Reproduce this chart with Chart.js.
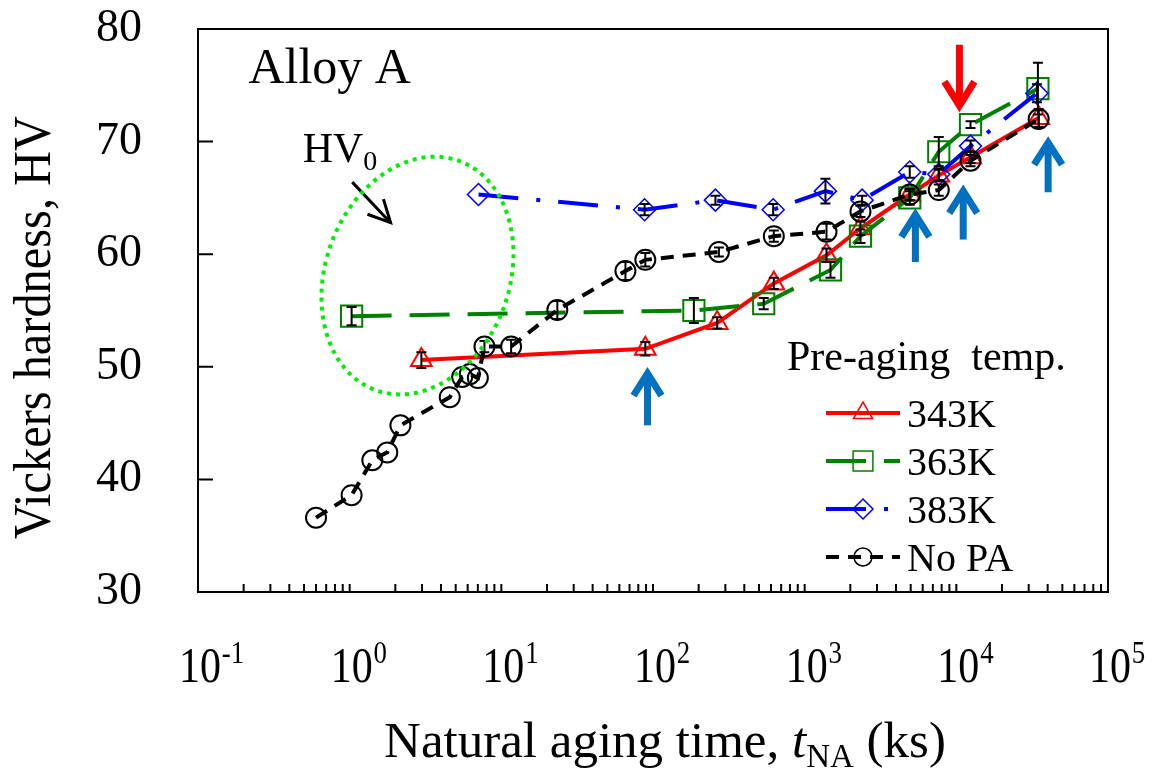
<!DOCTYPE html>
<html>
<head>
<meta charset="utf-8">
<title>Vickers hardness vs natural aging time</title>
<script src="https://cdn.jsdelivr.net/npm/chart.js@4.4.1/dist/chart.umd.min.js"></script>
<style>
  html, body { margin: 0; padding: 0; background: #fff; }
  canvas { display: block; }
</style>
</head>
<body>
<canvas id="myChart" width="1153" height="775"></canvas>
<script>
// natural aging time t_NA (ks) / hardness HV / error (+-)
const t343 = [2.97, 89, 265, 626, 1393, 2333, 4930, 7660, 12400, 34900];
const hv343 = [50.6, 51.6, 53.9, 57.4, 59.9, 62.3, 65.3, 67.0, 68.6, 72.1];
const err343 = [0.7, 0.6, 0.5, 0.5, 0.6, 0.6, 0.5, 0.5, 0.5, 0.8];

const t363 = [1.03, 186, 537, 1480, 2333, 4930, 7660, 12400, 34500];
const hv363 = [54.5, 55.0, 55.6, 58.6, 61.6, 65.0, 69.1, 71.5, 74.7];
const err363 = [0.8, 1.1, 0.5, 0.7, 0.6, 0.6, 1.3, 0.3, 2.3];

const t383 = [7.07, 88, 258, 620, 1371, 2393, 4930, 7660, 12400, 34000];
const hv383 = [65.3, 63.95, 64.8, 63.95, 65.6, 64.8, 67.3, 67.1, 69.6, 74.3];
const err383 = [0, 0.5, 0.4, 0.5, 1.1, 0.4, 0.5, 0.5, 0.5, 0.8];

const tNoPA = [0.60, 1.03, 1.41, 1.77, 2.16, 4.57, 5.52, 6.2, 7.0, 7.74, 11.6, 23.4, 65.8, 89, 272, 626, 1393, 2333, 4930, 7660, 12400, 34900];
const hvNoPA = [36.6, 38.6, 41.7, 42.4, 44.8, 47.3, 49.1, 49.35, 49.0, 51.8, 51.8, 55.05, 58.5, 59.5, 60.2, 61.6, 62.0, 63.8, 65.3, 65.7, 68.3, 72.0];
const errNoPA = [0, 0, 0, 0, 0, 0, 0, 0, 0, 0.5, 0.6, 0.8, 0.8, 0.6, 0.4, 0.5, 0.7, 0.5, 0.5, 0.5, 0.5, 0.8];

const xTickPowers = [-1, 0, 1, 2, 3, 4, 5];
const yTicks = [30, 40, 50, 60, 70, 80];

// arrows marking points (data coordinates)
const blueArrows = [[92, 44.8, 49.4], [5370, 59.3, 63.5], [11100, 61.3, 65.6], [40300, 65.5, 69.9]];
const redArrows = [[10480, 78.6, 73.2]];

const serif = "'Liberation Serif', 'Times New Roman', serif";

function toPoints(xs, ys) {
    return xs.map((x, i) => ({ x: x, y: ys[i] }));
}

function series(label, xs, ys, errs, color, dash, style, radius) {
    return {
        label: label,
        data: toPoints(xs, ys),
        errors: errs,
        borderColor: color,
        borderWidth: 4,
        borderDash: dash,
        pointStyle: style,
        pointRadius: radius,
        pointBorderWidth: 2,
        pointBorderColor: color,
        pointBackgroundColor: 'rgba(0,0,0,0)',
        showLine: true,
        fill: false,
        tension: 0
    };
}

const ds343 = series('343K', t343, hv343, err343, '#ff0000', [], 'triangle', 12);
const ds363 = series('363K', t363, hv363, err363, '#008000', [40, 18], 'rect', 15);
const ds383 = series('383K', t383, hv383, err383, '#0000ff', [40, 18, 4, 18], 'rectRot', 11);
const dsNoPA = series('No PA', tNoPA, hvNoPA, errNoPA, '#000000', [13, 9], 'circle', 10);
ds383.pointBorderWidth = 1.5;
ds343.order = 3; ds363.order = 2; ds383.order = 1; dsNoPA.order = 0;

function marker(ctx, style, x, y, r) {
    ctx.beginPath();
    if (style == 'triangle') {
        ctx.moveTo(x, y - r);
        ctx.lineTo(x + r * Math.sin(2 * Math.PI / 3), y - r * Math.cos(2 * Math.PI / 3));
        ctx.lineTo(x + r * Math.sin(4 * Math.PI / 3), y - r * Math.cos(4 * Math.PI / 3));
        ctx.closePath();
    } else if (style == 'rect') {
        const s = r * Math.SQRT1_2;
        ctx.rect(x - s, y - s, 2 * s, 2 * s);
    } else if (style == 'rectRot') {
        ctx.moveTo(x - r, y); ctx.lineTo(x, y - r); ctx.lineTo(x + r, y); ctx.lineTo(x, y + r);
        ctx.closePath();
    } else {
        ctx.arc(x, y, r, 0, Math.PI * 2);
    }
    ctx.stroke();
}

function arrow(ctx, x0, y0, x1, y1, head, spread, color, width) {
    ctx.save();
    ctx.strokeStyle = color;
    ctx.lineWidth = width;
    ctx.setLineDash([]);
    ctx.beginPath();
    ctx.moveTo(x0, y0);
    ctx.lineTo(x1, y1);
    ctx.stroke();
    const a = Math.atan2(y1 - y0, x1 - x0);
    ctx.beginPath();
    ctx.moveTo(x1 - head * Math.cos(a) + spread * Math.sin(a), y1 - head * Math.sin(a) - spread * Math.cos(a));
    ctx.lineTo(x1, y1);
    ctx.lineTo(x1 - head * Math.cos(a) - spread * Math.sin(a), y1 - head * Math.sin(a) + spread * Math.cos(a));
    ctx.stroke();
    ctx.restore();
}

const errorBars = {
    id: 'errorBars',
    afterDatasetsDraw(chart) {
        const ctx = chart.ctx, yScale = chart.scales.y;
        ctx.save();
        ctx.strokeStyle = '#000';
        ctx.lineWidth = 2;
        chart.data.datasets.forEach((ds, i) => {
            const meta = chart.getDatasetMeta(i);
            meta.data.forEach((pt, j) => {
                const e = ds.errors[j];
                if (!e) return;
                const v = ds.data[j].y;
                const top = yScale.getPixelForValue(v + e);
                const bot = yScale.getPixelForValue(v - e);
                ctx.beginPath();
                ctx.moveTo(pt.x, top); ctx.lineTo(pt.x, bot);
                ctx.moveTo(pt.x - 5, top); ctx.lineTo(pt.x + 5, top);
                ctx.moveTo(pt.x - 5, bot); ctx.lineTo(pt.x + 5, bot);
                ctx.stroke();
            });
        });
        ctx.restore();
    }
};

const frame = {
    id: 'frame',
    afterDraw(chart) {
        const ctx = chart.ctx;
        const area = chart.chartArea;
        const xs = chart.scales.x, ys = chart.scales.y;

        ctx.save();
        // box
        ctx.strokeStyle = '#000';
        ctx.lineWidth = 2;
        ctx.strokeRect(area.left, area.top, area.right - area.left, area.bottom - area.top);

        // inward ticks
        ctx.beginPath();
        yTicks.forEach(v => {
            const py = ys.getPixelForValue(v);
            ctx.moveTo(area.left, py); ctx.lineTo(area.left + 15, py);
        });
        for (let p = -1; p < 5; p++) {
            for (let m = 1; m <= 9; m++) {
                const px = xs.getPixelForValue(m * Math.pow(10, p));
                ctx.moveTo(px, area.bottom); ctx.lineTo(px, area.bottom - 8);
            }
        }
        ctx.stroke();

        // x tick labels 10^n
        ctx.fillStyle = '#000';
        ctx.textBaseline = 'alphabetic';
        xTickPowers.forEach(p => {
            const px = xs.getPixelForValue(Math.pow(10, p));
            ctx.save();
            ctx.translate(px + 2, area.bottom + 90);
            ctx.scale(0.84, 1);
            ctx.font = '50px ' + serif;
            ctx.textAlign = 'right';
            ctx.fillText('10', 25, 0);
            ctx.font = '32px ' + serif;
            ctx.textAlign = 'left';
            ctx.fillText(p < 0 ? '-' + (-p) : String(p), 26, -19);
            ctx.restore();
        });

        // x title
        const cx = (area.left + area.right) / 2 + 12;
        const base = area.bottom + 165;
        const parts = [
            ['Natural aging time, ', '51px ' + serif, 0],
            ['t', 'italic 51px ' + serif, 0],
            ['NA', '33px ' + serif, 10],
            [' (ks)', '51px ' + serif, 0]
        ];
        let total = 0;
        parts.forEach(p => { ctx.font = p[1]; total += ctx.measureText(p[0]).width; });
        let x = cx - total / 2;
        ctx.textAlign = 'left';
        parts.forEach(p => {
            ctx.font = p[1];
            ctx.fillText(p[0], x, base + p[2]);
            x += ctx.measureText(p[0]).width;
        });

        // y title
        ctx.save();
        ctx.translate(50, (area.top + area.bottom) / 2 + 17);
        ctx.rotate(-Math.PI / 2);
        ctx.scale(0.93, 1);
        ctx.font = '52px ' + serif;
        ctx.textAlign = 'center';
        ctx.fillText('Vickers hardness, HV', 0, 0);
        ctx.restore();

        // Alloy A
        ctx.font = '50px ' + serif;
        ctx.textAlign = 'left';
        ctx.fillText('Alloy A', xs.getPixelForValue(0.215), ys.getPixelForValue(75.2));

        // HV0 label, arrow and ellipse
        const hx = xs.getPixelForValue(0.49), hy = ys.getPixelForValue(68.2);
        ctx.font = '42px ' + serif;
        ctx.fillText('HV', hx, hy);
        const hw = ctx.measureText('HV').width;
        ctx.font = '28px ' + serif;
        ctx.fillText('0', hx + hw, hy + 8);
        arrow(ctx, xs.getPixelForValue(1.04), ys.getPixelForValue(66.4),
            xs.getPixelForValue(1.86), ys.getPixelForValue(62.8), 22, 11, '#000', 3);

        ctx.save();
        ctx.strokeStyle = '#00ee00';
        ctx.lineWidth = 4;
        ctx.setLineDash([4, 5]);
        ctx.beginPath();
        ctx.ellipse(xs.getPixelForValue(2.8), ys.getPixelForValue(58.1), 92, 122, 20 * Math.PI / 180, 0, Math.PI * 2);
        ctx.stroke();
        ctx.restore();

        // arrows
        blueArrows.forEach(a => {
            const px = xs.getPixelForValue(a[0]);
            arrow(ctx, px, ys.getPixelForValue(a[1]), px, ys.getPixelForValue(a[2]), 22, 14, '#0070c0', 7);
        });
        redArrows.forEach(a => {
            const px = xs.getPixelForValue(a[0]);
            arrow(ctx, px, ys.getPixelForValue(a[1]), px, ys.getPixelForValue(a[2]), 24, 15, '#ff0000', 7);
        });

        // legend
        const lx = area.right - 321, ly = area.top + 341;
        ctx.fillStyle = '#000';
        ctx.font = '42px ' + serif;
        ctx.textAlign = 'left';
        ctx.fillText('Pre-aging  temp.', lx, ly);
        [ds343, ds363, ds383, dsNoPA].forEach((ds, i) => {
            const ry = ly + 43 + i * 48;
            ctx.save();
            ctx.strokeStyle = ds.borderColor;
            ctx.lineWidth = 4;
            ctx.setLineDash(ds.borderDash);
            ctx.beginPath();
            ctx.moveTo(lx + 39, ry); ctx.lineTo(lx + 113, ry);
            ctx.stroke();
            ctx.setLineDash([]);
            ctx.lineWidth = 1.5;
            marker(ctx, ds.pointStyle, lx + 76, ry, ds.pointRadius - 1);
            ctx.restore();
            ctx.font = '40px ' + serif;
            ctx.fillText(ds.label, lx + 120, ry + 14);
        });
        ctx.restore();
    }
};

const ctx = document.getElementById('myChart').getContext('2d');
const myChart = new Chart(ctx, {
    type: 'line',
    data: { datasets: [ds343, ds363, ds383, dsNoPA] },
    options: {
        responsive: false,
        animation: false,
        events: [],
        layout: { padding: { top: 29, right: 45, left: 0, bottom: 0 } },
        plugins: { legend: { display: false }, tooltip: { enabled: false } },
        scales: {
            x: {
                type: 'logarithmic',
                min: 0.1,
                max: 100000,
                grid: { display: false },
                border: { display: false },
                ticks: { display: false },
                afterFit(scale) { scale.height = 183; }
            },
            y: {
                type: 'linear',
                min: 30,
                max: 80,
                grid: { display: false, drawTicks: false },
                border: { display: false },
                ticks: {
                    stepSize: 10,
                    padding: 56,
                    color: '#000',
                    font: { family: serif, size: 46 }
                },
                afterFit(scale) {
                    scale.width = 198;
                    // tick padding is horizontal here; keep it out of the top/bottom margins
                    scale.paddingTop = 0;
                    scale.paddingBottom = 0;
                }
            }
        }
    },
    plugins: [errorBars, frame]
});
</script>
</body>
</html>
